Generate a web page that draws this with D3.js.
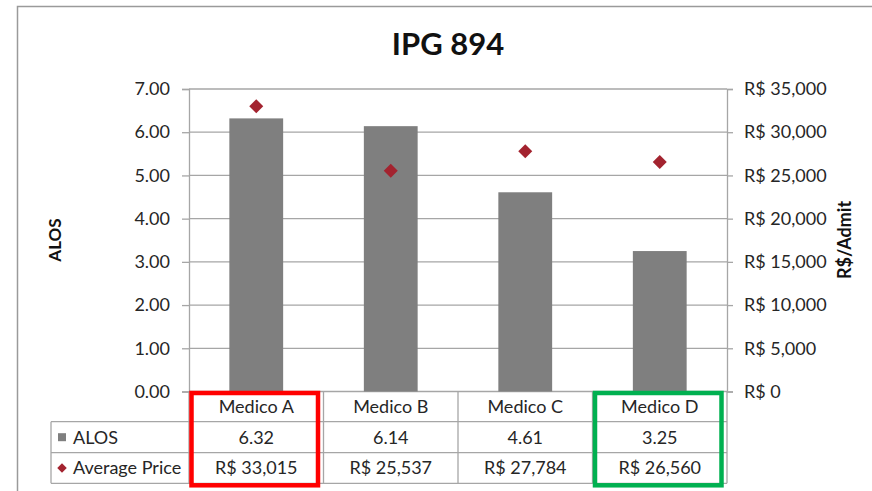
<!DOCTYPE html>
<html>
<head>
<meta charset="utf-8">
<script src="https://cdn.jsdelivr.net/npm/d3@7"></script>
<style>
  html, body { margin: 0; padding: 0; background: #fff; }
  svg { display: block; font-family: Lato, "Open Sans", sans-serif; }
</style>
</head>
<body>
<svg id="chart" width="872" height="491"></svg>
<script>
// Average length of stay and average price per physician
const categories = ["Medico A", "Medico B", "Medico C", "Medico D"];
const alos = [6.32, 6.14, 4.61, 3.25];
const avgPrice = [33015, 25537, 27784, 26560];
const alosTicks = [0, 1, 2, 3, 4, 5, 6, 7];
const priceTicks = [0, 5000, 10000, 15000, 20000, 25000, 30000, 35000];
const title = "IPG 894";
const seriesNames = ["ALOS", "Average Price"];
const highlightRed = ["Medico A"];
const highlightGreen = ["Medico D"];

const svg = d3.select("#chart");
const W = 872, H = 491;
const plot = { left: 189, right: 727, top: 89, bottom: 391.5 };
const tableRows = { header: 421.7, row1: 452.7, bottom: 483.3, labelLeft: 51 };

const grid = "#a6a6a6";
const barColor = "#7f7f7f";
const markColor = "#a3232f";
const textColor = "#262626";

// outer frame
svg.append("path")
  .attr("d", `M ${W + 2} 6.5 H 17.5 V ${H + 2}`)
  .attr("fill", "none").attr("stroke", "#9a9a9a").attr("stroke-width", 1.5);

const x = d3.scaleBand().domain(categories).range([plot.left, plot.right]).paddingInner(0).paddingOuter(0);
const yL = d3.scaleLinear().domain([0, 7]).range([plot.bottom, plot.top]);
const yR = d3.scaleLinear().domain([0, 35000]).range([plot.bottom, plot.top]);

// title
svg.append("text").attr("x", 448).attr("y", 54.5)
  .attr("text-anchor", "middle").attr("font-size", 31).attr("font-weight", "bold")
  .attr("fill", "#111").text(title);

// gridlines
svg.append("g").selectAll("line").data(alosTicks).join("line")
  .attr("x1", plot.left).attr("x2", plot.right)
  .attr("y1", d => yL(d)).attr("y2", d => yL(d))
  .attr("stroke", grid).attr("stroke-width", 1.3);

// left axis
const axL = svg.append("g").attr("transform", `translate(${plot.left},0)`)
  .call(d3.axisLeft(yL).tickValues(alosTicks).tickFormat(d3.format(".2f")).tickSize(7).tickPadding(12));
axL.select(".domain").attr("stroke", grid).attr("stroke-width", 1.3);
axL.selectAll(".tick line").attr("stroke", grid).attr("stroke-width", 1.3);
axL.selectAll(".tick text").attr("font-size", 18).attr("fill", textColor).attr("font-family", "Lato, sans-serif");

// right axis
const axR = svg.append("g").attr("transform", `translate(${plot.right},0)`)
  .call(d3.axisRight(yR).tickValues(priceTicks).tickFormat(d => "R$ " + d3.format(",")(d)).tickSize(6).tickPadding(11));
axR.select(".domain").attr("stroke", grid).attr("stroke-width", 1.3);
axR.selectAll(".tick line").attr("stroke", grid).attr("stroke-width", 1.3);
axR.selectAll(".tick text").attr("font-size", 18).attr("fill", textColor).attr("font-family", "Lato, sans-serif");

// axis titles
svg.append("text").attr("transform", `translate(61,240) rotate(-90)`)
  .attr("text-anchor", "middle").attr("font-size", 17).attr("font-weight", "bold")
  .attr("fill", "#111").text("ALOS");
svg.append("text").attr("transform", `translate(851,240) rotate(-90)`)
  .attr("text-anchor", "middle").attr("font-size", 18).attr("font-weight", "bold")
  .attr("fill", "#111").text("R$/Admit");

// bars
const bw = x.bandwidth() * 0.4;
svg.append("g").selectAll("rect").data(categories).join("rect")
  .attr("x", d => x(d) + (x.bandwidth() - bw) / 2)
  .attr("width", bw)
  .attr("y", (d, i) => yL(alos[i]))
  .attr("height", (d, i) => yL(0) - yL(alos[i]))
  .attr("fill", barColor);

// price markers (diamonds)
const diamond = d3.symbol().type(d3.symbolSquare).size(98);
svg.append("g").selectAll("path").data(categories).join("path")
  .attr("d", diamond)
  .attr("transform", (d, i) => `translate(${x(d) + x.bandwidth() / 2},${yR(avgPrice[i])}) rotate(45)`)
  .attr("fill", markColor);

// data table
const tbl = svg.append("g").attr("stroke", grid).attr("stroke-width", 1.3);
const colEdges = categories.map(c => x(c)).concat([plot.right]);
tbl.selectAll(".v").data(colEdges).join("line")
  .attr("x1", d => d).attr("x2", d => d)
  .attr("y1", plot.bottom).attr("y2", tableRows.bottom);
tbl.append("line").attr("x1", tableRows.labelLeft).attr("x2", tableRows.labelLeft)
  .attr("y1", tableRows.header).attr("y2", tableRows.bottom);
[tableRows.header, tableRows.row1, tableRows.bottom].forEach(yy => {
  tbl.append("line").attr("x1", tableRows.labelLeft).attr("x2", plot.right).attr("y1", yy).attr("y2", yy);
});

const rowMid = [(plot.bottom + tableRows.header) / 2, (tableRows.header + tableRows.row1) / 2, (tableRows.row1 + tableRows.bottom) / 2];
const cellText = svg.append("g").attr("font-size", 18).attr("fill", textColor).attr("text-anchor", "middle");
categories.forEach((c, i) => {
  const cx = x(c) + x.bandwidth() / 2;
  cellText.append("text").attr("x", cx).attr("y", rowMid[0]).attr("dy", "0.35em").text(c);
  cellText.append("text").attr("x", cx).attr("y", rowMid[1]).attr("dy", "0.35em").text(d3.format(".2f")(alos[i]));
  cellText.append("text").attr("x", cx).attr("y", rowMid[2]).attr("dy", "0.35em").text("R$ " + d3.format(",")(avgPrice[i]));
});

// legend keys inside the table
svg.append("rect").attr("x", 58).attr("y", rowMid[1] - 4).attr("width", 8).attr("height", 8).attr("fill", barColor);
svg.append("path").attr("d", d3.symbol().type(d3.symbolSquare).size(45))
  .attr("transform", `translate(62,${rowMid[2]}) rotate(45)`).attr("fill", markColor);
svg.append("g").attr("font-size", 18).attr("fill", textColor)
  .selectAll("text").data(seriesNames).join("text")
  .attr("x", 73).attr("y", (d, i) => rowMid[i + 1]).attr("dy", "0.35em").text(d => d);

// highlight boxes around selected physicians' table columns
const highlight = (names, color) => names.forEach(n => {
  const x0 = x(n);
  svg.append("rect")
    .attr("x", x0 + 2.5)
    .attr("y", plot.bottom + 1.5)
    .attr("width", x.bandwidth() - 8)
    .attr("height", tableRows.bottom - plot.bottom + 0.5)
    .attr("fill", "none").attr("stroke", color).attr("stroke-width", 4.5);
});
highlight(highlightRed, "#ff0000");
highlight(highlightGreen, "#00b050");
</script>
</body>
</html>
